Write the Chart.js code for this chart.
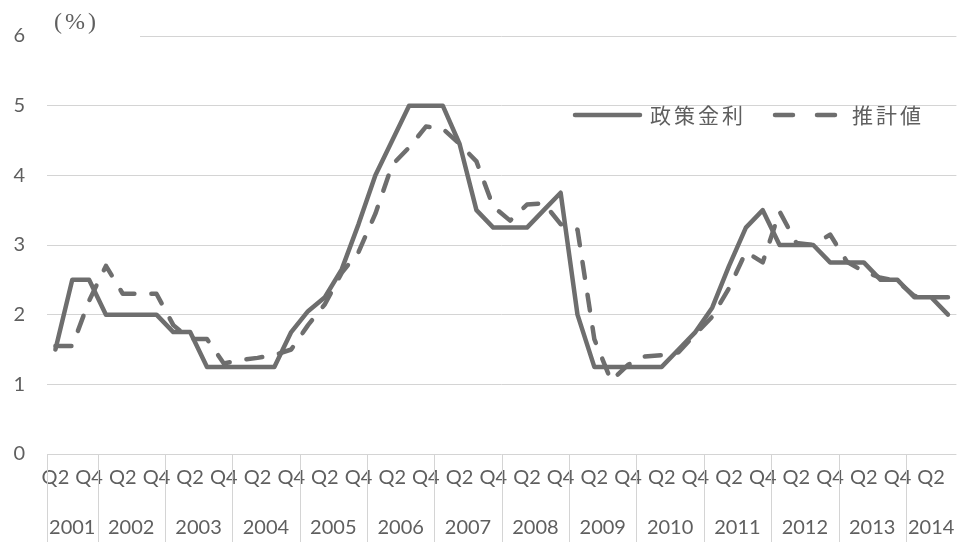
<!DOCTYPE html>
<html>
<head>
<meta charset="utf-8">
<script src="https://cdn.jsdelivr.net/npm/chart.js@4.4.1/dist/chart.umd.min.js"></script>
<style>
  html, body { margin: 0; padding: 0; background: #fff; }
  #wrap { width: 960px; height: 542px; }
</style>
</head>
<body>
<div id="wrap"><canvas id="rateChart"></canvas></div>
<script>
// categories: 2001 Q2 .. 2014 Q3
const years = ['2001', '2002', '2003', '2004', '2005', '2006', '2007',
               '2008', '2009', '2010', '2011', '2012', '2013', '2014'];
const firstYearQuarters = ['Q2', 'Q3', 'Q4'];
const fullYearQuarters = ['Q1', 'Q2', 'Q3', 'Q4'];
const lastYearQuarters = ['Q1', 'Q2', 'Q3'];

const seriesNames = ['政策金利', '推計値'];
const unitLabel = '(%)';

// policy rate (solid)
const policyRate = [
  1.5, 2.5, 2.5,
  2.0, 2.0, 2.0, 2.0,
  1.75, 1.75, 1.25, 1.25,
  1.25, 1.25, 1.25, 1.75,
  2.05, 2.25, 2.65, 3.3,
  4.0, 4.5, 5.0, 5.0,
  5.0, 4.45, 3.5, 3.25,
  3.25, 3.25, 3.5, 3.75,
  2.0, 1.25, 1.25, 1.25,
  1.25, 1.25, 1.5, 1.75,
  2.1, 2.7, 3.25, 3.5,
  3.0, 3.0, 3.0, 2.75,
  2.75, 2.75, 2.5, 2.5,
  2.25, 2.25, 2.0
];

// estimate (dashed)
const estimate = [
  1.55, 1.55, 2.2,
  2.7, 2.3, 2.3, 2.3,
  1.85, 1.65, 1.65, 1.3,
  1.35, 1.38, 1.42, 1.5,
  1.85, 2.15, 2.6, 2.9,
  3.45, 4.15, 4.4, 4.7,
  4.67, 4.45, 4.2, 3.55,
  3.35, 3.58, 3.6, 3.3,
  3.22, 1.65, 1.05, 1.28,
  1.4, 1.42, 1.46, 1.72,
  1.97, 2.38, 2.9, 2.75,
  3.48, 3.03, 3.0, 3.15,
  2.76, 2.62, 2.53, 2.48,
  2.27, 2.25, 2.25
];

const yTicks = [0, 1, 2, 3, 4, 5, 6];

const lineColor = '#6e6e6e';
const gridColor = '#d4d4d4';
const textColor = '#5f5f5f';
const tickFont = 'Lato';

// one category per quarter, remember which year it belongs to
const quarterLabels = [];
const yearOfCategory = [];
years.forEach((y, k) => {
  let qs = fullYearQuarters;
  if (k === 0) qs = firstYearQuarters;
  if (k === years.length - 1) qs = lastYearQuarters;
  qs.forEach(q => { quarterLabels.push(q); yearOfCategory.push(y); });
});

// year row + group separators under the quarter labels
const yearAxisPlugin = {
  id: 'yearAxis',
  afterDraw(chart) {
    const x = chart.scales.x;
    const ctx = chart.ctx;
    const area = chart.chartArea;
    const half = (x.getPixelForValue(1) - x.getPixelForValue(0)) / 2;
    ctx.save();
    ctx.strokeStyle = gridColor;
    ctx.lineWidth = 1;
    ctx.fillStyle = textColor;
    ctx.font = '20px ' + tickFont;
    ctx.textAlign = 'center';
    ctx.textBaseline = 'middle';
    let start = 0;
    years.forEach(y => {
      let end = start;
      while (end + 1 < yearOfCategory.length && yearOfCategory[end + 1] === y) end++;
      const left = x.getPixelForValue(start) - half;
      const right = x.getPixelForValue(end) + half;
      ctx.beginPath();
      ctx.moveTo(Math.round(left) + 0.5, area.bottom);
      ctx.lineTo(Math.round(left) + 0.5, chart.height);
      ctx.stroke();
      ctx.fillText(y, (left + right) / 2, 528);
      start = end + 1;
    });
    ctx.restore();
  }
};

// unit label and legend inside the plot
const labelsPlugin = {
  id: 'labels',
  afterDraw(chart) {
    const ctx = chart.ctx;
    const area = chart.chartArea;
    ctx.save();
    // the unit text box hides the start of the top gridline
    ctx.fillStyle = '#fff';
    ctx.fillRect(area.left - 2, area.top - 6, 142 - area.left, 12);
    ctx.fillStyle = textColor;
    ctx.font = '24px "Liberation Serif"';
    ctx.letterSpacing = '3px';
    ctx.textBaseline = 'middle';
    ctx.fillText(unitLabel, 54, 23);

    // legend
    const ly = 115;
    const ds = chart.data.datasets;
    ctx.strokeStyle = ds[0].borderColor;
    ctx.lineWidth = ds[0].borderWidth;
    ctx.lineCap = 'round';
    ctx.beginPath();
    ctx.moveTo(575, ly); ctx.lineTo(640, ly);
    ctx.stroke();
    ctx.setLineDash([18, 24]);
    ctx.strokeStyle = ds[1].borderColor;
    ctx.beginPath();
    ctx.moveTo(775, ly); ctx.lineTo(838, ly);
    ctx.stroke();
    ctx.setLineDash([]);
    ctx.font = '21px "Noto Sans CJK JP"';
    ctx.letterSpacing = '3px';
    ctx.fillStyle = textColor;
    ctx.fillText(ds[0].label, 650, ly);
    ctx.fillText(ds[1].label, 852, ly);
    ctx.restore();
  }
};

const ctx = document.getElementById('rateChart').getContext('2d');
new Chart(ctx, {
  type: 'line',
  data: {
    labels: quarterLabels,
    datasets: [{
      label: seriesNames[0],
      data: policyRate,
      borderColor: lineColor,
      borderWidth: 4.5,
      borderJoinStyle: 'round',
      borderCapStyle: 'round',
      pointRadius: 0,
      tension: 0,
      fill: false
    }, {
      label: seriesNames[1],
      data: estimate,
      borderColor: lineColor,
      borderWidth: 4.5,
      borderDash: [16, 17],
      borderJoinStyle: 'round',
      borderCapStyle: 'round',
      pointRadius: 0,
      tension: 0,
      fill: false
    }]
  },
  options: {
    responsive: true,
    maintainAspectRatio: false,
    animation: false,
    layout: { padding: { left: 0, right: 2, top: 36, bottom: 0 } },
    plugins: {
      legend: { display: false },
      tooltip: { enabled: false }
    },
    scales: {
      x: {
        offset: true,
        grid: { display: false, drawTicks: false },
        border: { display: false },
        afterFit: s => { s.height = 88; },
        ticks: {
          autoSkip: false,
          maxRotation: 0,
          minRotation: 0,
          padding: 12,
          color: textColor,
          font: { family: tickFont, size: 20 },
          callback: (v, i) => (i % 2 === 0 ? quarterLabels[i] : '')
        }
      },
      y: {
        min: 0,
        max: 6,
        afterFit: s => { s.width = 47; },
        afterBuildTicks: s => { s.ticks = yTicks.map(v => ({ value: v })); },
        grid: { color: gridColor, lineWidth: 1, drawTicks: false },
        border: { display: false },
        ticks: {
          padding: 22,
          color: textColor,
          font: { family: tickFont, size: 20 }
        }
      }
    }
  },
  plugins: [yearAxisPlugin, labelsPlugin]
});
</script>
</body>
</html>
